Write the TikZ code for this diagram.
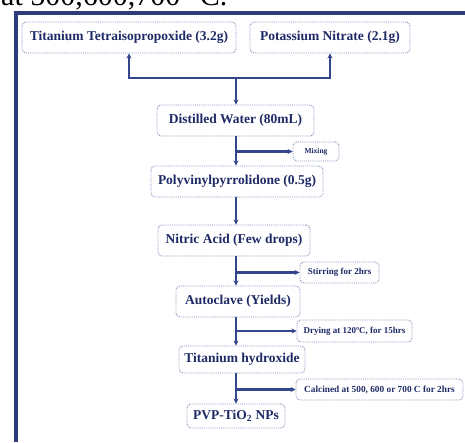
\documentclass[tikz,border=0pt]{standalone}
\usepackage{fontspec}
\setmainfont{Liberation Serif}
\usetikzlibrary{arrows.meta}
\definecolor{navy}{HTML}{1E2A66}
\definecolor{linec}{HTML}{34468C}
\definecolor{bordc}{HTML}{8593BE}
\definecolor{framec}{HTML}{2C3D7A}
\tikzset{
  box/.style={draw=bordc, densely dotted, line width=0.9pt, rounded corners=4pt, fill=white,
    text=navy, font=\fontsize{13.5}{15}\selectfont\bfseries, inner sep=0pt, align=center},
  sidebox/.style={box, font=\fontsize{9}{10}\selectfont\bfseries},
  conn/.style={draw=linec, line width=2.2pt, -{Stealth[length=5pt,width=5pt]}},
}
\begin{document}
\begin{tikzpicture}[x=1pt,y=-1pt]
\useasboundingbox (0,0) rectangle (465,442);
\clip (0,0) rectangle (465,442);
% cut-off caption text at top
\node[anchor=base west, inner sep=0pt, font=\fontsize{30}{32}\selectfont, text=black] (cap) at (1,5) {at 500,600,700 °C.};
% frame
\draw[framec, line width=4pt] (16,442) -- (16,12.5) -- (466,12.5);
% boxes
\node[box, minimum width=214, minimum height=31] (tti) at (129,37.5) {Titanium Tetraisopropoxide (3.2g)};
\node[box, minimum width=160, minimum height=31] (kno) at (330,37.5) {Potassium Nitrate (2.1g)};
\node[box, minimum width=157, minimum height=31] (dw) at (235.5,120.5) {Distilled Water (80mL)};
\node[sidebox, minimum width=46, minimum height=19, font=\fontsize{7.5}{8}\selectfont\bfseries] (mix) at (316,151.5) {Mixing};
\node[box, minimum width=172, minimum height=31] (pvp) at (237,181.5) {Polyvinylpyrrolidone (0.5g)};
\node[box, minimum width=152, minimum height=31] (na) at (234,240.5) {Nitric Acid (Few drops)};
\node[sidebox, minimum width=79, minimum height=21] (stir) at (339.5,272.5) {Stirring for 2hrs};
\node[box, minimum width=124, minimum height=31] (ac) at (238,301.5) {Autoclave (Yields)};
\node[sidebox, minimum width=115, minimum height=22] (dry) at (354.5,331) {Drying at 120ºC, for 15hrs};
\node[box, minimum width=126, minimum height=27] (th) at (242,359.5) {Titanium hydroxide};
\node[sidebox, minimum width=167, minimum height=21, font=\fontsize{9.3}{10}\selectfont\bfseries] (calc) at (379.5,389.5) {Calcined at 500, 600 or 700 C for 2hrs};
\node[box, minimum width=98, minimum height=24] (np) at (236,416) {PVP-TiO\textsubscript{2} NPs};
% spine coordinates
\coordinate (sp) at (236,0);
\coordinate (j) at (236,78);
\coordinate (m1) at (236,151.5);
\coordinate (m2) at (236,272.5);
\coordinate (m3) at (236,331);
\coordinate (m4) at (236,389.5);
% connectors
\draw[conn] (j) -| (tti.south);
\draw[conn] (j) -| (kno.south);
\draw[conn] (j) -- (dw.north -| sp);
\draw[conn] (dw.south -| sp) -- (pvp.north -| sp);
\draw[conn] (pvp.south -| sp) -- (na.north -| sp);
\draw[conn] (na.south -| sp) -- (ac.north -| sp);
\draw[conn] (ac.south -| sp) -- (th.north -| sp);
\draw[conn] (th.south -| sp) -- (np.north -| sp);
\draw[conn] (m1) -- (mix.west);
\draw[conn] (m2) -- (stir.west);
\draw[conn] (m3) -- (dry.west);
\draw[conn] (m4) -- (calc.west);
\end{tikzpicture}
\end{document}
